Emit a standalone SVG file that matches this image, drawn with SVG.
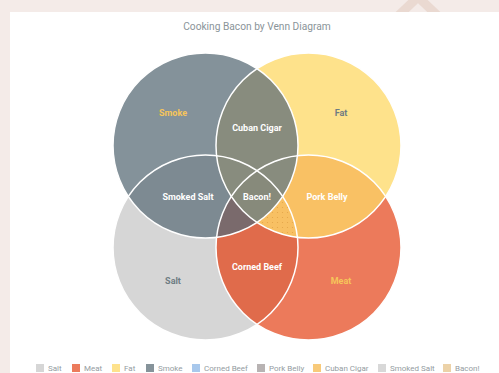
<svg xmlns="http://www.w3.org/2000/svg" width="499" height="373" viewBox="0 0 499 373">
<style>
.lbl{font-family:"Roboto","Liberation Sans",sans-serif;font-size:9px;font-weight:bold;text-anchor:middle;fill:#ffffff}
.lg{font-family:"Roboto","Liberation Sans",sans-serif;font-size:8px;fill:#949ca1}
.sep{fill:none;stroke:#ffffff;stroke-width:1.5}
</style>
<defs>
<clipPath id="cA"><circle cx="205.5" cy="145.5" r="92.5"/></clipPath>
<clipPath id="cB"><circle cx="308.5" cy="145.5" r="92.5"/></clipPath>
<clipPath id="cC"><circle cx="205.5" cy="247.5" r="92.5"/></clipPath>
<clipPath id="cD"><circle cx="308.5" cy="247.5" r="92.5"/></clipPath>
<pattern id="dots" width="5" height="5" patternUnits="userSpaceOnUse">
<rect width="5" height="5" fill="#f8c063"/>
<circle cx="2.5" cy="2.5" r="0.6" fill="#e3a448"/>
</pattern>
</defs>
<rect x="0" y="0" width="499" height="373" fill="#f4ebe8"/>
<polyline points="398,16 418,-3 438,16" fill="none" stroke="#ead9d1" stroke-width="9"/>
<rect x="10" y="12" width="489" height="361" fill="#ffffff"/>
<text x="257" y="30" font-family="Roboto,'Liberation Sans',sans-serif" font-size="10.2" fill="#8a9499" text-anchor="middle">Cooking Bacon by Venn Diagram</text>
<g id="salt"><circle cx="205.5" cy="247.5" r="92.5" fill="#d6d6d6"/></g>
<g id="meat"><circle cx="308.5" cy="247.5" r="92.5" fill="#ec7a5b"/></g>
<g id="fat"><circle cx="308.5" cy="145.5" r="92.5" fill="#fee28b"/></g>
<g id="smoke"><circle cx="205.5" cy="145.5" r="92.5" fill="#84929a"/></g>
<g id="smoked-salt" clip-path="url(#cA)"><circle cx="205.5" cy="247.5" r="92.5" fill="#7d8a92"/></g>
<g id="corned-beef" clip-path="url(#cC)"><circle cx="308.5" cy="247.5" r="92.5" fill="#e06b4b"/></g>
<g id="pork-belly" clip-path="url(#cB)"><circle cx="308.5" cy="247.5" r="92.5" fill="#f9c164"/></g>
<g id="fat-salt" clip-path="url(#cB)"><circle cx="205.5" cy="247.5" r="92.5" fill="url(#dots)"/></g>
<g id="smoke-meat" clip-path="url(#cA)"><circle cx="308.5" cy="247.5" r="92.5" fill="#7a6a6c"/></g>
<g id="cuban-cigar" clip-path="url(#cA)"><circle cx="308.5" cy="145.5" r="92.5" fill="#888c7e"/></g>
<g id="bacon" clip-path="url(#cA)"><g clip-path="url(#cB)"><g clip-path="url(#cC)"><circle cx="308.5" cy="247.5" r="92.5" fill="#878a7b"/></g></g></g>
<g id="connectors">
<circle class="sep" cx="205.5" cy="145.5" r="92.5"/>
<circle class="sep" cx="308.5" cy="145.5" r="92.5"/>
<circle class="sep" cx="205.5" cy="247.5" r="92.5"/>
<circle class="sep" cx="308.5" cy="247.5" r="92.5"/>
</g>
<g id="labels">
<text class="lbl" x="173" y="116" style="fill:#f6c55a">Smoke</text>
<text class="lbl" x="341" y="116" style="fill:#6e7c83">Fat</text>
<text class="lbl" x="257" y="131">Cuban Cigar</text>
<text class="lbl" x="188" y="200">Smoked Salt</text>
<text class="lbl" x="257" y="200">Bacon!</text>
<text class="lbl" x="327" y="200">Pork Belly</text>
<text class="lbl" x="257" y="270">Corned Beef</text>
<text class="lbl" x="173" y="284" style="fill:#6e7c83">Salt</text>
<text class="lbl" x="341" y="284" style="fill:#f6c55a">Meat</text>
</g>
<g id="legend">
<rect x="36" y="364" width="8" height="8" fill="#d6d6d6"/><text class="lg" x="48" y="371">Salt</text>
<rect x="72" y="364" width="8" height="8" fill="#ec7b5c"/><text class="lg" x="84" y="371">Meat</text>
<rect x="112" y="364" width="8" height="8" fill="#fee28c"/><text class="lg" x="124" y="371">Fat</text>
<rect x="146" y="364" width="8" height="8" fill="#86939a"/><text class="lg" x="158" y="371">Smoke</text>
<rect x="192" y="364" width="8" height="8" fill="#a8c8ec"/><text class="lg" x="204" y="371">Corned Beef</text>
<rect x="257" y="364" width="8" height="8" fill="#b8b3b3"/><text class="lg" x="269" y="371">Pork Belly</text>
<rect x="313" y="364" width="8" height="8" fill="#f8ca7a"/><text class="lg" x="325" y="371">Cuban Cigar</text>
<rect x="378" y="364" width="8" height="8" fill="#d8d8d8"/><text class="lg" x="390" y="371">Smoked Salt</text>
<rect x="443" y="364" width="8" height="8" fill="#ecd2a8"/><text class="lg" x="455" y="371">Bacon!</text>
</g>
</svg>
